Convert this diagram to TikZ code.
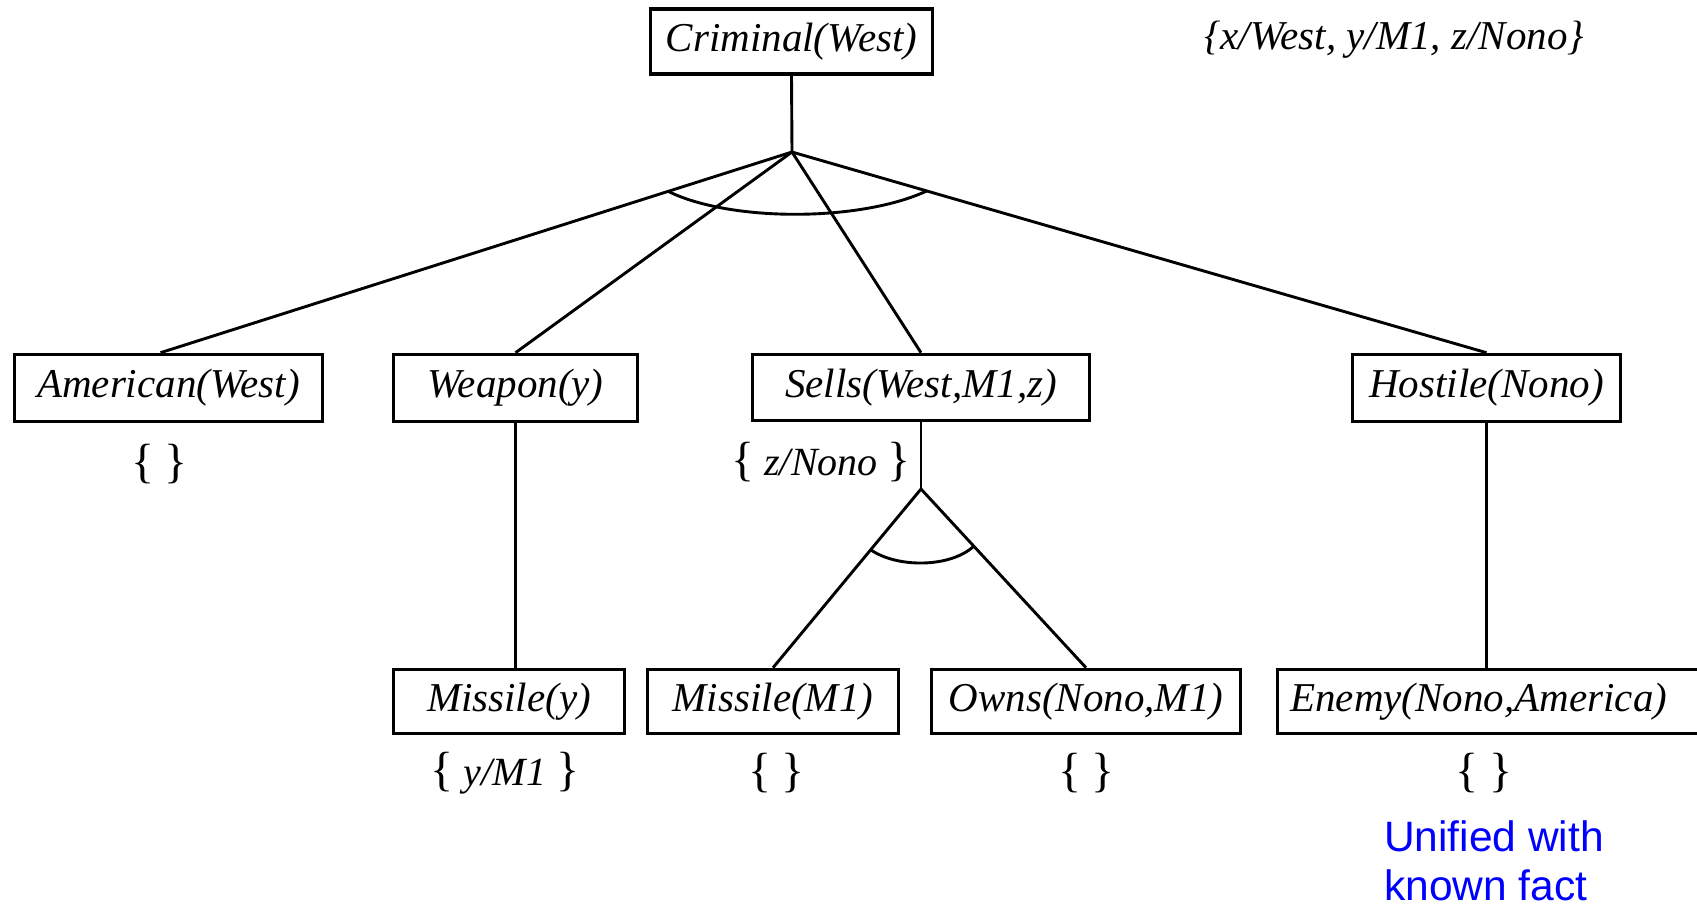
\documentclass[tikz,border=0pt]{standalone}
\usepackage{fontspec}
\setmainfont{Liberation Serif}
\newfontfamily\sansfam{Liberation Sans}
\usetikzlibrary{calc}
\newcommand\mylb{{\fontsize{48}{48}\selectfont\{}}
\newcommand\myrb{{\fontsize{48}{48}\selectfont\}}}
\begin{document}
\begin{tikzpicture}[x=1pt,y=-1pt,
  pbox/.style={draw, line width=3.6pt, minimum height=65pt, inner sep=0pt,
    font=\fontsize{41}{48}\selectfont\itshape},
  link/.style={line width=2.9pt},
  subst/.style={font=\fontsize{40}{48}\selectfont, inner sep=0pt},
]
\useasboundingbox (0,0) rectangle (1697,906);

% boxes
\node[pbox, minimum width=282pt] (crim) at (791.5,41.5) {Criminal(West)};
\node[pbox, minimum width=308pt, minimum height=67pt] (amer) at (168.5,388) {American(West)};
\node[pbox, minimum width=244pt, minimum height=67pt] (weap) at (515.5,388) {Weapon(y)};
\node[pbox, minimum width=337pt, minimum height=66pt] (sells) at (921,387.5) {Sells(West,M1,z)};
\node[pbox, minimum width=268pt, minimum height=67pt] (host) at (1486.5,388) {Hostile(Nono)};
\node[pbox, minimum width=231pt, minimum height=64pt] (mis1) at (509,701.5) {Missile(y)};
\node[pbox, minimum width=251pt, minimum height=64pt] (misM1) at (773,701.5) {Missile(M1)};
\node[pbox, minimum width=309pt, minimum height=64pt] (owns) at (1086,701.5) {Owns(Nono,M1)};
\node[pbox, minimum height=64pt, anchor=west, text width=430pt, inner xsep=13pt, align=left] (enemy) at (1275.6,701.5) {Enemy(Nono,America)};

% junctions
\coordinate (j1) at (792,152);
\coordinate (j2) at (921,489);
\coordinate (amertop) at ([xshift=-8pt]amer.north);

\draw[link] (crim.south) -- (j1);
\draw[link] (j1) -- (amertop);
\draw[link] (j1) -- (weap.north);
\draw[link] (j1) -- (sells.north);
\draw[link] (j1) -- (host.north);
\coordinate (a1) at ($(j1)!0.196!(amertop)$);
\coordinate (a2) at ($(j1)!0.194!(host.north)$);
\draw[link] (a1) .. controls (730,222) and (860,222) .. (a2);

\draw[link] (sells.south) -- (j2);
\draw[link] (j2) -- (misM1.north);
\draw[link] (j2) -- (owns.north);
\coordinate (a3) at ($(j2)!0.34!(misM1.north)$);
\coordinate (a4) at ($(j2)!0.32!(owns.north)$);
\draw[link] (a3) .. controls (897,568) and (950,568) .. (a4);

\draw[link] (weap.south) -- (weap.south |- mis1.north);
\draw[link] (host.south) -- (host.south |- enemy.north);

% substitutions
\node[subst] (samer) at (160,464) {\mylb\ \myrb};
\node[subst] (ssells) at (821,462) {\mylb\ \textit{z/Nono} \myrb};
\node[subst] (smis1) at (505,773) {\mylb\ \textit{y/M1} \myrb};
\node[subst] (smisM1) at (777,773) {\mylb\ \myrb};
\node[subst] (sowns) at (1087,773) {\mylb\ \myrb};
\node[subst] (senemy) at (1484,773) {\mylb\ \myrb};
\node[font=\fontsize{41}{48}\selectfont\itshape, inner sep=0pt] (total) at (1394,40) {\{x/West, y/M1, z/Nono\}};

\node[font=\sansfam\fontsize{42.5}{49}\selectfont, text=blue, align=left, anchor=north west, inner sep=0pt] (note) at (1384,820) {Unified with\\known fact};
\end{tikzpicture}
\end{document}
